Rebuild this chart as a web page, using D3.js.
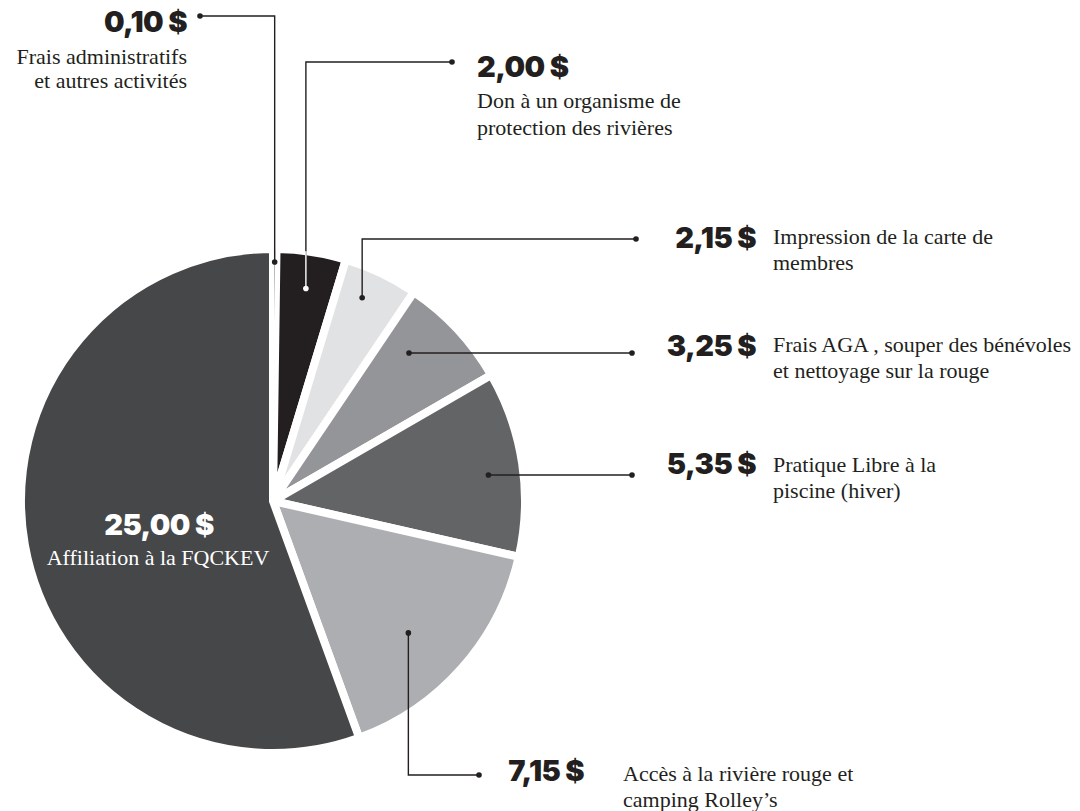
<!DOCTYPE html>
<html>
<head>
<meta charset="utf-8">
<script src="https://cdn.jsdelivr.net/npm/d3@7"></script>
<style>
  body { margin: 0; background: #fff; }
  .amount { font-family: Inter, Roboto, sans-serif; font-weight: 900; font-size: 29px; letter-spacing: -0.6px; }
  .desc { font-family: "Liberation Serif", "DejaVu Serif", serif; font-size: 22px; }
</style>
</head>
<body>
<div id="chart"></div>
<script>
// Data
const values = [0.10, 2.00, 2.15, 3.25, 5.35, 7.15, 25.00]
const amounts = ['0,10 $', '2,00 $', '2,15 $', '3,25 $', '5,35 $', '7,15 $', '25,00 $']
const descriptions = [
  ['Frais administratifs', 'et autres activités'],
  ['Don à un organisme de', 'protection des rivières'],
  ['Impression de la carte de', 'membres'],
  ['Frais AGA , souper des bénévoles', 'et nettoyage sur la rouge'],
  ['Pratique Libre à la', 'piscine (hiver)'],
  ['Accès à la rivière rouge et', 'camping Rolley’s'],
  ['Affiliation à la FQCKEV']
]
const colors = ['#9a9b9d', '#231f20', '#e1e2e3', '#939598', '#636466', '#adaeb1', '#464749']

// Dimensions
const dimensions = { width: 1080, height: 811, cx: 273, cy: 501, radius: 252, gap: 8 }
const ink = '#231f20'

// leader lines: where the dot sits inside the slice, and where the elbow goes
const leaders = [
  { slice: 0, f: 0.5, r: 239, turn: 'v', y: 16, x: 200 },
  { slice: 1, f: 0.5, r: 215, turn: 'v', y: 62, x: 452 },
  { slice: 2, f: 0.4, r: 222, turn: 'v', y: 239, x: 636 },
  { slice: 3, f: 0.33, r: 201, turn: 'h', x: 632 },
  { slice: 4, f: 0.54, r: 217, turn: 'h', x: 632 },
  { slice: 5, f: 0.55, r: 189, turn: 'v', y: 775, x: 479 }
]

// text placement
const labels = [
  { vx: 187, vy: 32, va: 'end', dx: 187, dy: [64, 88], da: 'end' },
  { vx: 477, vy: 77, va: 'start', dx: 477, dy: [108, 135], da: 'start' },
  { vx: 756, vy: 248, va: 'end', dx: 773, dy: [244, 270], da: 'start' },
  { vx: 756, vy: 356, va: 'end', dx: 773, dy: [352, 378], da: 'start' },
  { vx: 756, vy: 474, va: 'end', dx: 773, dy: [472, 498], da: 'start' },
  { vx: 584, vy: 781, va: 'end', dx: 623, dy: [781, 807], da: 'start' },
  { vx: 159, vy: 535, va: 'middle', dx: 158, dy: [565], da: 'middle', fill: '#fff' }
]

const svg = d3.select('#chart')
  .append('svg')
  .attr('width', dimensions.width)
  .attr('height', dimensions.height)

const ctr = svg.append('g')
  .attr('transform', `translate(${dimensions.cx}, ${dimensions.cy})`)

// Pie
const pie = d3.pie().sort(null).value(d => d)
const arcs = pie(values)
const arc = d3.arc().innerRadius(0).outerRadius(dimensions.radius)
const tiny = d => d.endAngle - d.startAngle < 0.05

const slices = ctr.selectAll('path.slice')
  .data(arcs)
  .join('path')
  .attr('class', 'slice')
  .attr('d', arc)
  .attr('fill', (d, i) => colors[i])
  .attr('stroke', '#fff')
  .attr('stroke-width', d => tiny(d) ? 2.5 : dimensions.gap)
  .attr('stroke-linejoin', 'miter')

slices.filter(tiny).raise()

// clip paths so that a leader crossing a dark slice is drawn in white
svg.append('defs').selectAll('clipPath')
  .data(arcs)
  .join('clipPath')
  .attr('id', (d, i) => `clip-${i}`)
  .append('path')
  .attr('d', arc)

const anchor = l => {
  const a = arcs[l.slice]
  const ang = a.startAngle + l.f * (a.endAngle - a.startAngle)
  return [l.r * Math.sin(ang), -l.r * Math.cos(ang)]
}

const leaderPoints = l => {
  const [x0, y0] = anchor(l)
  const ex = l.x - dimensions.cx
  if (l.turn === 'v') {
    const ey = l.y - dimensions.cy
    return [[x0, y0], [x0, ey], [ex, ey]]
  }
  return [[x0, y0], [ex, y0]]
}

const line = d3.line()

const drawLeaders = (g, color) => {
  g.append('path')
    .attr('d', d => line(leaderPoints(d)))
    .attr('fill', 'none')
    .attr('stroke', color)
    .attr('stroke-width', 1.4)
  g.append('circle')
    .attr('cx', d => leaderPoints(d)[0][0])
    .attr('cy', d => leaderPoints(d)[0][1])
    .attr('r', 2.8)
    .attr('fill', color)
  g.append('circle')
    .attr('cx', d => leaderPoints(d).at(-1)[0])
    .attr('cy', d => leaderPoints(d).at(-1)[1])
    .attr('r', 2.8)
    .attr('fill', color)
}

ctr.selectAll('g.leader')
  .data(leaders)
  .join('g')
  .attr('class', 'leader')
  .call(drawLeaders, ink)

ctr.selectAll('g.leader-inside')
  .data(leaders.filter(l => d3.hsl(colors[l.slice]).l < 0.2))
  .join('g')
  .attr('class', 'leader-inside')
  .attr('clip-path', d => `url(#clip-${d.slice})`)
  .call(drawLeaders, '#fff')

// Labels
const lab = svg.selectAll('g.label')
  .data(labels)
  .join('g')
  .attr('class', 'label')

lab.append('text')
  .attr('class', 'amount')
  .attr('x', d => d.vx)
  .attr('y', d => d.vy)
  .attr('text-anchor', d => d.va)
  .attr('fill', d => d.fill || ink)
  .text((d, i) => amounts[i])

lab.each(function (d, i) {
  d3.select(this).selectAll('text.desc')
    .data(descriptions[i])
    .join('text')
    .attr('class', 'desc')
    .attr('x', d.dx)
    .attr('y', (t, j) => d.dy[j])
    .attr('text-anchor', d.da)
    .attr('fill', d.fill || ink)
    .text(t => t)
})
</script>
</body>
</html>
